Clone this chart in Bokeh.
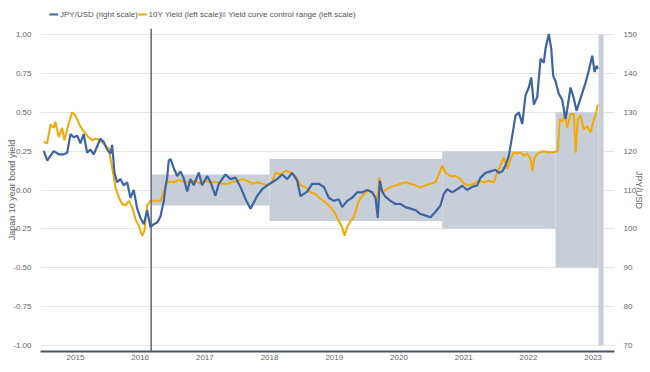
from bokeh.plotting import figure
from bokeh.layouts import column
from bokeh.core.properties import value
from bokeh.models import (Range1d, LinearAxis, FixedTicker, NumeralTickFormatter,
                          CustomJSTickFormatter, Span)
from bokeh.embed import file_html
from bokeh.resources import INLINE

# ---------------- data ----------------
years = [2015, 2016, 2017, 2018, 2019, 2020, 2021, 2022, 2023]
left_ticks = [-1.0, -0.75, -0.5, -0.25, 0.0, 0.25, 0.5, 0.75, 1.0]
right_ticks = [70, 80, 90, 100, 110, 120, 130, 140, 150]
series_names = ["JPY/USD (right scale)", "10Y Yield (left scale)",
                "Yield curve control range (left scale)"]

# JPY/USD (right scale), time as decimal year
jpy_year = [
    2015.060, 2015.113, 2015.164, 2015.215, 2015.292, 2015.369, 2015.422, 2015.473, 2015.524, 2015.576,
    2015.627, 2015.678, 2015.731, 2015.782, 2015.833, 2015.885, 2015.936, 2015.987, 2016.040, 2016.091,
    2016.117, 2016.153, 2016.194, 2016.245, 2016.296, 2016.349, 2016.400, 2016.451, 2016.504, 2016.555,
    2016.606, 2016.658, 2016.709, 2016.760, 2016.813, 2016.864, 2016.915, 2016.941, 2016.967, 2016.992,
    2017.018, 2017.045, 2017.069, 2017.122, 2017.173, 2017.224, 2017.276, 2017.327, 2017.378, 2017.456,
    2017.508, 2017.586, 2017.637, 2017.714, 2017.765, 2017.817, 2017.868, 2017.946, 2018.023, 2018.100,
    2018.177, 2018.255, 2018.306, 2018.358, 2018.436, 2018.513, 2018.590, 2018.667, 2018.745, 2018.822,
    2018.899, 2018.977, 2019.028, 2019.131, 2019.208, 2019.310, 2019.388, 2019.465, 2019.542, 2019.620,
    2019.672, 2019.749, 2019.827, 2019.904, 2019.981, 2020.058, 2020.136, 2020.187, 2020.222, 2020.253,
    2020.290, 2020.341, 2020.419, 2020.496, 2020.573, 2020.650, 2020.728, 2020.805, 2020.882, 2020.960,
    2021.037, 2021.114, 2021.191, 2021.242, 2021.295, 2021.372, 2021.449, 2021.527, 2021.604, 2021.681,
    2021.759, 2021.810, 2021.887, 2021.964, 2022.041, 2022.092, 2022.145, 2022.196, 2022.247, 2022.300,
    2022.351, 2022.402, 2022.454, 2022.505, 2022.556, 2022.593, 2022.633, 2022.686, 2022.737, 2022.788,
    2022.814, 2022.865, 2022.902, 2022.933, 2022.969, 2023.020, 2023.072, 2023.123, 2023.150, 2023.201,
    2023.252, 2023.293, 2023.355, 2023.432, 2023.483, 2023.536, 2023.572, 2023.603, 2023.622,
]
jpy_value = [
    120.1, 117.6, 118.8, 120.0, 119.2, 119.2, 119.6, 124.4, 123.6, 124.0,
    122.0, 124.4, 119.6, 120.4, 119.2, 121.2, 123.2, 122.4, 120.4, 119.4,
    121.6, 114.5, 112.0, 112.8, 111.2, 112.0, 108.0, 110.0, 105.2, 102.8,
    101.2, 104.8, 100.4, 101.2, 101.6, 103.2, 107.2, 110.7, 113.2, 117.6,
    118.0, 116.8, 115.6, 113.6, 114.8, 113.0, 109.6, 112.8, 111.2, 114.5,
    111.2, 113.6, 112.0, 108.5, 111.6, 112.8, 114.0, 112.8, 113.2, 110.8,
    107.7, 105.2, 106.8, 108.5, 110.2, 111.2, 112.0, 112.8, 114.0, 112.8,
    114.4, 112.4, 108.4, 109.6, 111.6, 111.6, 110.8, 108.0, 107.2, 107.6,
    105.6, 107.2, 108.0, 109.4, 109.4, 110.0, 109.4, 108.0, 102.8, 112.4,
    109.6, 108.2, 107.2, 106.4, 106.4, 105.6, 105.2, 104.8, 103.8, 103.4,
    103.0, 104.4, 106.0, 109.0, 110.2, 109.4, 110.2, 111.1, 110.0, 110.8,
    111.2, 113.2, 114.4, 114.8, 115.2, 114.4, 114.8, 116.3, 118.8, 124.0,
    129.2, 130.0, 127.0, 134.4, 136.4, 139.0, 132.0, 134.0, 143.8, 142.8,
    146.4, 150.2, 146.4, 139.4, 138.0, 134.8, 133.2, 128.3, 130.8, 136.4,
    133.6, 130.4, 133.6, 137.6, 140.8, 144.6, 140.4, 142.0, 141.2,
]

# Japan 10Y government bond yield (left scale)
yield_year = [
    2015.060, 2015.113, 2015.164, 2015.215, 2015.241, 2015.292, 2015.344, 2015.380, 2015.446, 2015.499,
    2015.550, 2015.601, 2015.654, 2015.731, 2015.808, 2015.859, 2015.936, 2016.014, 2016.065, 2016.117,
    2016.168, 2016.219, 2016.272, 2016.323, 2016.374, 2016.426, 2016.477, 2016.528, 2016.581, 2016.617,
    2016.658, 2016.709, 2016.786, 2016.864, 2016.915, 2016.967, 2017.018, 2017.069, 2017.147, 2017.250,
    2017.327, 2017.405, 2017.482, 2017.559, 2017.637, 2017.740, 2017.817, 2017.895, 2017.972, 2018.049,
    2018.126, 2018.204, 2018.281, 2018.358, 2018.436, 2018.513, 2018.590, 2018.641, 2018.718, 2018.796,
    2018.873, 2018.950, 2019.028, 2019.105, 2019.182, 2019.259, 2019.337, 2019.414, 2019.491, 2019.569,
    2019.620, 2019.672, 2019.708, 2019.749, 2019.800, 2019.851, 2019.929, 2020.006, 2020.083, 2020.160,
    2020.213, 2020.249, 2020.290, 2020.341, 2020.419, 2020.496, 2020.573, 2020.650, 2020.728, 2020.805,
    2020.882, 2020.960, 2021.037, 2021.114, 2021.165, 2021.218, 2021.269, 2021.346, 2021.423, 2021.500,
    2021.551, 2021.629, 2021.706, 2021.783, 2021.861, 2021.938, 2022.015, 2022.057, 2022.119, 2022.170,
    2022.222, 2022.273, 2022.324, 2022.377, 2022.428, 2022.479, 2022.531, 2022.583, 2022.609, 2022.644,
    2022.711, 2022.788, 2022.865, 2022.943, 2023.004, 2023.035, 2023.072, 2023.108, 2023.150, 2023.201,
    2023.252, 2023.278, 2023.313, 2023.355, 2023.406, 2023.459, 2023.510, 2023.552, 2023.587, 2023.622,
]
yield_value = [
    0.31, 0.30, 0.42, 0.40, 0.44, 0.34, 0.40, 0.32, 0.43, 0.50,
    0.48, 0.43, 0.39, 0.35, 0.32, 0.33, 0.32, 0.285, 0.265, 0.146,
    0.017, -0.047, -0.09, -0.10, -0.07, -0.11, -0.187, -0.23, -0.295, -0.26,
    -0.10, -0.07, -0.07, -0.07, -0.01, 0.05, 0.055, 0.05, 0.065, 0.05,
    0.05, 0.06, 0.04, 0.06, 0.05, 0.05, 0.04, 0.04, 0.05, 0.06,
    0.07, 0.06, 0.04, 0.05, 0.04, 0.03, 0.05, 0.113, 0.10, 0.124,
    0.113, 0.09, 0.03, 0.02, -0.015, -0.025, -0.058, -0.08, -0.11, -0.155,
    -0.20, -0.24, -0.295, -0.24, -0.20, -0.175, -0.07, -0.025, 0.0, -0.03,
    -0.07, 0.08, -0.015, 0.0, 0.02, 0.028, 0.04, 0.05, 0.04, 0.03,
    0.017, 0.03, 0.04, 0.05, 0.10, 0.156, 0.11, 0.09, 0.09, 0.07,
    0.04, 0.03, 0.04, 0.06, 0.05, 0.06, 0.05, 0.10, 0.16, 0.21,
    0.135, 0.20, 0.242, 0.235, 0.242, 0.22, 0.235, 0.20, 0.124, 0.21,
    0.242, 0.25, 0.242, 0.245, 0.25, 0.457, 0.44, 0.49, 0.40, 0.49,
    0.49, 0.24, 0.457, 0.48, 0.39, 0.41, 0.37, 0.44, 0.48, 0.55,
]

# Yield curve control range (left scale)
band_start = [2016.72, 2018.549, 2021.218, 2022.969, 2023.634]
band_end = [2018.549, 2021.218, 2022.969, 2023.634, 2023.711]
band_low = [-0.10, -0.20, -0.25, -0.50, -1.00]
band_high = [0.10, 0.20, 0.25, 0.50, 1.00]

# ---------------- styling ----------------
FONT = "Liberation Sans"
BLUE = "#3d64a5"
ORANGE = "#f4a900"
BAND = "#c8ced8"
TXT = "#666666"

# ---- legend strip: a small axis-less figure whose units are pixels ----
LEG_W, LEG_H = 648, 28
legend_x = [10, 110, 204]      # left edge of each legend entry (layout, px)
legend_y = LEG_H / 2
lg = figure(width=LEG_W, height=LEG_H, output_backend="svg", toolbar_location=None,
            x_range=Range1d(0, LEG_W), y_range=Range1d(0, LEG_H),
            min_border=0, min_border_left=0, min_border_right=0,
            min_border_top=0, min_border_bottom=0,
            x_axis_location=None, y_axis_location=None)
lg.grid.visible = False
lg.outline_line_color = None
lg.border_fill_color = "white"
lg.background_fill_color = "white"
# line swatches for the two line series
lg.segment(x0=legend_x[:2], x1=[x + 10 for x in legend_x[:2]],
           y0=[legend_y] * 2, y1=[legend_y] * 2,
           line_color=[BLUE, ORANGE], line_width=2.2)
# small square swatch for the range band
lg.scatter(x=[legend_x[2] + 2.5], y=[legend_y], marker="square", size=5,
           fill_color=BAND, line_color=None)
lg.text(x=[legend_x[0] + 12, legend_x[1] + 12, legend_x[2] + 8],
        y=[legend_y] * 3, text=series_names,
        text_font=value(FONT), text_font_size=value("8px"), text_color="#555555",
        text_align="left", text_baseline="middle")

# ---- main chart ----
p = figure(width=648, height=340, output_backend="svg", toolbar_location=None,
           x_range=Range1d(2015.01, 2023.88), y_range=Range1d(-1.04, 1.04),
           min_border_left=40, min_border_right=34, min_border_top=0, min_border_bottom=17)
p.outline_line_color = None
p.background_fill_color = "white"
p.border_fill_color = "white"
p.extra_y_ranges = {"jpy": Range1d(110 - 41.6, 110 + 41.6)}

p.quad(left=band_start, right=band_end, bottom=band_low, top=band_high,
       fill_color=BAND, line_color=None)
p.line(yield_year, yield_value, line_color=ORANGE, line_width=2)
p.line(jpy_year, jpy_value, y_range_name="jpy", line_color=BLUE, line_width=2.2)

p.add_layout(Span(location=band_start[0], dimension="height",
                  line_color="#5f6977", line_width=1.5))

p.xaxis.ticker = FixedTicker(ticks=[y + 0.55 for y in years])
p.xaxis.formatter = CustomJSTickFormatter(code="return Math.floor(tick).toFixed(0);")
p.xaxis.axis_line_color = "#4b5563"
p.xaxis.axis_line_width = 2

p.yaxis.ticker = FixedTicker(ticks=left_ticks)
p.yaxis.formatter = NumeralTickFormatter(format="0.00")
p.yaxis.axis_label = "Japan 10 year bond yield"
p.yaxis.axis_line_color = None

right = LinearAxis(y_range_name="jpy", ticker=FixedTicker(ticks=right_ticks),
                   axis_label="JPY/USD", axis_line_color=None)
p.add_layout(right, "right")

for ax in p.xaxis + p.yaxis + [right]:
    ax.major_tick_line_color = None
    ax.minor_tick_line_color = None
    ax.major_label_text_font = FONT
    ax.major_label_text_font_size = "8px"
    ax.major_label_text_color = TXT
    ax.major_label_standoff = 3
    ax.axis_label_text_font = FONT
    ax.axis_label_text_font_size = "9px"
    ax.axis_label_text_font_style = "normal"
    ax.axis_label_text_color = TXT

p.xaxis.major_label_standoff = -3
p.yaxis.axis_label_standoff = -7
right.axis_label_standoff = -6

p.xgrid.grid_line_color = None
p.ygrid.grid_line_color = "#e6e6e6"
p.ygrid.grid_line_width = 1
p.ygrid.ticker = FixedTicker(ticks=left_ticks)

layout = column(lg, p, spacing=0)
open("out.html", "w").write(file_html(layout, INLINE))
